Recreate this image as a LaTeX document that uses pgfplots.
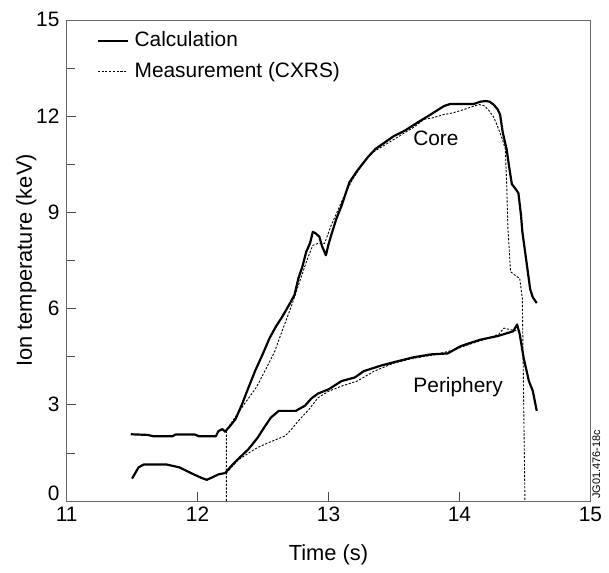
\documentclass[border=0pt]{standalone}
\usepackage{pgfplots}
\pgfplotsset{compat=1.18}
\usepackage{fontspec}
\setmainfont{Liberation Sans}
\begin{document}
\fontsize{21}{25}\selectfont
\begin{tikzpicture}
\begin{axis}[
  scale only axis, width=527pt, height=484pt,
  xmin=11, xmax=15, ymin=0, ymax=15,
  clip mode=individual,
  xtick={11,12,13,14,15}, ytick={0,3,6,9,12,15},
  yticklabels={\smash{0},3,6,9,12,15},
  minor y tick num=1,
  tick pos=left, tick align=inside,
  major tick length=9pt, minor tick length=8pt,
  tick style={black!70, line width=0.7pt},
  axis line style={black!60, line width=0.7pt},
  /pgf/number format/assume math mode=true,
  ticklabel style={font=\fontsize{21}{25}\selectfont},
  xticklabel style={yshift=1pt},
  yticklabel style={xshift=0pt},
  xlabel={Time (s)}, ylabel={Ion temperature (keV)},
  label style={font=\fontsize{22}{26}\selectfont},
  xlabel style={at={(axis description cs:0.5,-0.124)}, anchor=base},
  ylabel style={at={(axis description cs:-0.0664,0.5)}, anchor=base},
  legend style={at={(axis description cs:0.057,0.98)}, anchor=north west, draw=none, fill=none,
    row sep=8pt, column sep=4pt, font=\fontsize{21}{25}\selectfont, inner sep=0pt},
  legend cell align=left,
  legend image code/.code={\draw[#1] (0pt,0pt) -- (30pt,0pt);},
]
\addplot[black, line width=2.2pt, line join=round] coordinates {
(11.49,2.08)(11.62,2.06)(11.66,2.02)(11.81,2.02)(11.83,2.07)(11.98,2.07)(12.01,2.02)(12.14,2.02)
(12.16,2.18)(12.19,2.24)(12.21,2.16)(12.24,2.30)(12.29,2.55)(12.34,3.02)(12.39,3.55)(12.44,4.06)
(12.50,4.60)(12.55,5.08)(12.60,5.45)(12.64,5.70)(12.69,6.05)(12.74,6.42)(12.77,6.94)(12.80,7.30)
(12.83,7.77)(12.86,8.05)(12.88,8.39)(12.90,8.35)(12.93,8.24)(12.95,7.95)(12.98,7.66)(13.00,8.00)
(13.02,8.28)(13.06,8.80)(13.10,9.21)(13.16,9.94)(13.22,10.30)(13.30,10.72)(13.36,10.98)(13.43,11.18)
(13.50,11.38)(13.58,11.54)(13.68,11.80)(13.78,12.05)(13.88,12.31)(13.93,12.38)(14.00,12.38)(14.11,12.38)
(14.16,12.45)(14.20,12.47)(14.23,12.45)(14.26,12.36)(14.29,12.22)(14.31,12.05)(14.33,11.50)(14.36,10.97)
(14.38,10.40)(14.40,9.88)(14.43,9.72)(14.45,9.60)(14.47,8.90)(14.48,8.40)(14.51,7.50)(14.54,6.60)
(14.56,6.35)(14.59,6.17)};
\addlegendentry{Calculation}
\addplot[black, line width=0.9pt, dash pattern=on 2.2pt off 1.6pt] coordinates {
(12.22,0)(12.22,2.20)(12.26,2.45)(12.31,2.75)(12.38,3.15)(12.45,3.55)(12.52,4.10)(12.59,4.67)
(12.65,5.35)(12.72,6.11)(12.78,6.85)(12.84,7.56)(12.88,7.97)(12.92,8.03)(12.97,8.03)(13.02,8.59)
(13.07,9.05)(13.12,9.52)(13.18,10.0)(13.25,10.45)(13.33,10.85)(13.43,11.10)(13.55,11.40)(13.65,11.65)
(13.73,11.90)(13.80,11.95)(13.88,12.05)(13.95,12.10)(14.03,12.20)(14.10,12.30)(14.15,12.36)(14.19,12.32)
(14.22,12.20)(14.26,11.98)(14.29,11.69)(14.33,11.25)(14.35,10.97)(14.36,9.94)(14.37,8.50)(14.39,7.15)
(14.42,7.05)(14.46,6.94)(14.48,6.32)(14.50,0)};
\addlegendentry{Measurement (CXRS)}
\addplot[black, line width=2.2pt, line join=round, forget plot] coordinates {
(11.50,0.70)(11.55,1.05)(11.59,1.14)(11.76,1.14)(11.86,1.05)(11.96,0.85)(12.03,0.72)(12.07,0.66)
(12.12,0.75)(12.16,0.83)(12.21,0.87)(12.26,1.10)(12.31,1.31)(12.39,1.62)(12.46,1.98)(12.51,2.30)
(12.56,2.60)(12.62,2.81)(12.75,2.81)(12.82,2.97)(12.87,3.20)(12.92,3.35)(13.00,3.48)(13.10,3.74)
(13.20,3.85)(13.27,4.05)(13.40,4.22)(13.53,4.36)(13.65,4.48)(13.78,4.57)(13.91,4.60)(14.01,4.83)
(14.16,5.03)(14.29,5.14)(14.41,5.29)(14.44,5.50)(14.46,5.20)(14.49,4.46)(14.53,3.74)(14.56,3.43)
(14.59,2.81)};
\addplot[black, line width=0.9pt, dash pattern=on 2.2pt off 1.6pt, forget plot] coordinates {
(12.22,0.87)(12.31,1.28)(12.40,1.52)(12.46,1.67)(12.56,1.85)(12.67,2.03)(12.72,2.25)(12.77,2.50)
(12.85,2.85)(12.92,3.22)(13.00,3.42)(13.10,3.58)(13.22,3.74)(13.35,4.05)(13.50,4.30)(13.65,4.45)
(13.80,4.55)(13.95,4.70)(14.05,4.85)(14.20,5.05)(14.30,5.20)(14.34,5.39)(14.39,5.34)(14.44,5.30)(14.48,5.30)};
\node[font=\fontsize{21}{25}\selectfont, anchor=base] at (axis cs:13.82,11.07) {Core};
\node[font=\fontsize{21}{25}\selectfont, anchor=base] at (axis cs:13.99,3.38) {Periphery};
\node[font=\fontsize{11}{12}\selectfont, rotate=90, anchor=west, inner sep=0pt] at (axis description cs:1.0114,0.004) {JG01.476-18c};
\end{axis}
\path (-67pt,-65pt) rectangle (542pt,504pt);
\end{tikzpicture}
\end{document}
